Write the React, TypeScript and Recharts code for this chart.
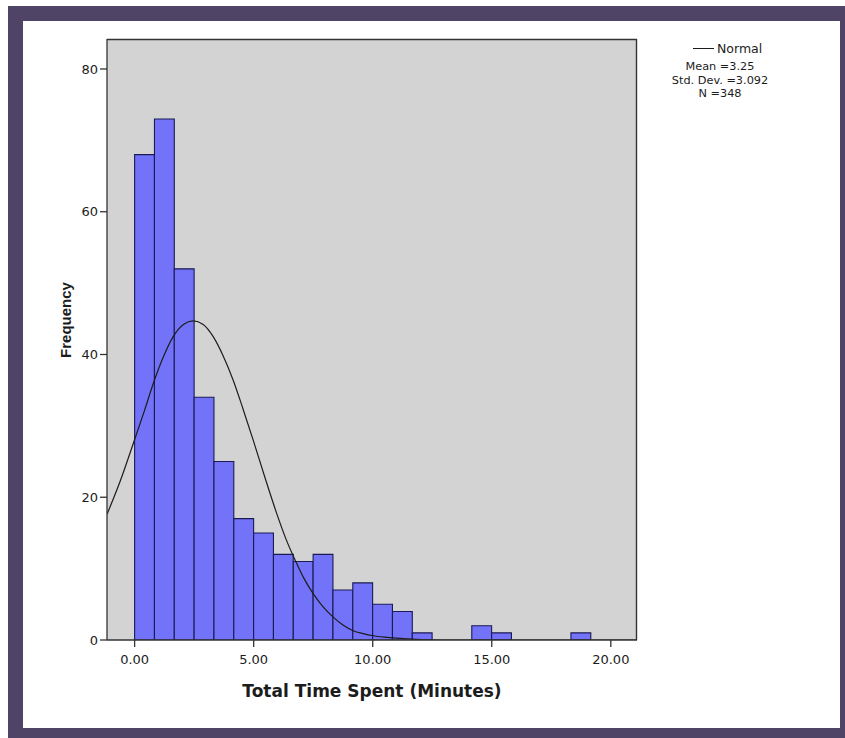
import { ComposedChart, Bar, Line, XAxis, YAxis, CartesianGrid, Legend, Label } from "recharts";

// histogram bins (minutes), SPSS bin width
const binWidth = 0.833;
const binCounts = [68, 73, 52, 34, 25, 17, 15, 12, 11, 12, 7, 8, 5, 4, 1, 0, 0, 2, 1, 0, 0, 0, 1];

// fitted normal curve
const curveX = [-1.16, -0.6, -0.06, 0.4, 0.78, 1.2, 1.62, 2.05, 2.46, 2.88, 3.3, 3.72, 4.14, 4.56, 4.98, 5.47, 5.97, 6.35, 6.74, 7.1, 7.5, 7.9, 8.34, 8.75, 9.18, 9.6, 10.03, 10.87, 11.8, 13, 21.1];
const curveY = [17.6, 22.3, 27.5, 32.0, 35.9, 39.6, 42.5, 44.2, 44.7, 44.2, 42.5, 39.8, 36.4, 32.3, 28.0, 22.8, 17.7, 14.2, 11.2, 8.7, 6.5, 4.7, 3.2, 2.1, 1.3, 0.9, 0.6, 0.3, 0.1, 0, 0];

const xTicks = [0, 5, 10, 15, 20];
const yTicks = [0, 20, 40, 60, 80];
const stats = ["Mean =3.25", "Std. Dev. =3.092", "N =348"];

const bins = binCounts.map((count, i) => ({ mid: (i + 0.5) * binWidth, count }));
const curve = curveX.map((x, i) => ({ mid: x, normal: curveY[i] }));

const FONT = "'DejaVu Sans', Verdana, sans-serif";
const INK = "#1c1c1c";
const AXIS = "#333";
const FRAME = "#4f4466";

const X_DOMAIN: [number, number] = [-1.16, 21.1];

const renderLegend = (props: any) => {
  const items = (props.payload || []).filter((p: any) => p.type !== "none");
  return (
    <div style={{ position: "relative", width: 120, height: 70, fontFamily: FONT, color: INK }}>
      {items.map((item: any) => (
        <div
          key={item.value}
          style={{ position: "absolute", left: 33, top: 1, display: "flex", alignItems: "center", fontSize: 12.5, whiteSpace: "nowrap" }}
        >
          <span style={{ display: "inline-block", width: 21, borderTop: `1.3px solid ${INK}`, marginRight: 3 }} />
          {item.value}
        </div>
      ))}
      <div style={{ position: "absolute", left: 0, top: 20, width: 120, textAlign: "center", fontSize: 11.3, lineHeight: "13.5px" }}>
        {stats.map((s) => (
          <div key={s} style={{ whiteSpace: "nowrap" }}>{s}</div>
        ))}
      </div>
    </div>
  );
};

export default function App() {
  return (
    <div style={{ position: "absolute", left: 0, top: 0, width: 845, height: 738, background: "#fff", overflow: "hidden" }}>
      <div style={{ position: "absolute", left: 8, top: 6, width: 837, height: 732, background: FRAME }} />
      <div style={{ position: "absolute", left: 23, top: 21, width: 817, height: 707, background: "#fff" }} />
      <div style={{ position: "absolute", left: 0, top: 0 }}>
        <ComposedChart width={845} height={738} data={bins} margin={{ top: 39, right: 208, bottom: 58, left: 67 }}>
          <CartesianGrid
            fill="#d3d3d3"
            fillOpacity={1}
            stroke={AXIS}
            strokeWidth={1.4}
            horizontalPoints={[39.5]}
            verticalPoints={[636.5]}
          />
          <XAxis
            dataKey="mid"
            type="number"
            domain={X_DOMAIN}
            ticks={xTicks}
            allowDataOverflow
            height={40}
            tickSize={7}
            tickMargin={8}
            tickFormatter={(v: number) => v.toFixed(2)}
            stroke={AXIS}
            strokeWidth={1.3}
            tick={{ fill: INK, fontSize: 13, fontFamily: FONT }}
          >
            <Label
              content={() => (
                <text x={372} y={697} textAnchor="middle" fill={INK} fontFamily={FONT} fontWeight="bold" fontSize={17}>
                  Total Time Spent (Minutes)
                </text>
              )}
            />
          </XAxis>
          <XAxis xAxisId="curve" dataKey="mid" type="number" domain={X_DOMAIN} allowDataOverflow hide />
          <YAxis
            type="number"
            domain={[0, 84.2]}
            ticks={yTicks}
            allowDataOverflow
            width={40}
            tickSize={7}
            stroke={AXIS}
            strokeWidth={1.3}
            tick={{ fill: INK, fontSize: 13, fontFamily: FONT }}
          >
            <Label
              content={() => (
                <text
                  x={65}
                  y={320}
                  transform="rotate(-90 65 320)"
                  textAnchor="middle"
                  dominantBaseline="central"
                  fill={INK}
                  fontFamily="'Liberation Sans', Arial, sans-serif"
                  fontWeight="bold"
                  fontSize={15}
                >
                  Frequency
                </text>
              )}
            />
          </YAxis>
          <Bar
            dataKey="count"
            barSize={19.83}
            fill="#7373f9"
            stroke="#1a1a55"
            strokeWidth={1.1}
            legendType="none"
            isAnimationActive={false}
          />
          <Line
            xAxisId="curve"
            data={curve}
            dataKey="normal"
            name="Normal"
            type="monotone"
            stroke={INK}
            strokeWidth={1.2}
            dot={false}
            activeDot={false}
            legendType="line"
            isAnimationActive={false}
          />
          <Legend
            layout="horizontal"
            verticalAlign="middle"
            align="center"
            content={renderLegend}
            wrapperStyle={{ left: 660, top: 40, width: 120 }}
          />
        </ComposedChart>
      </div>
    </div>
  );
}
